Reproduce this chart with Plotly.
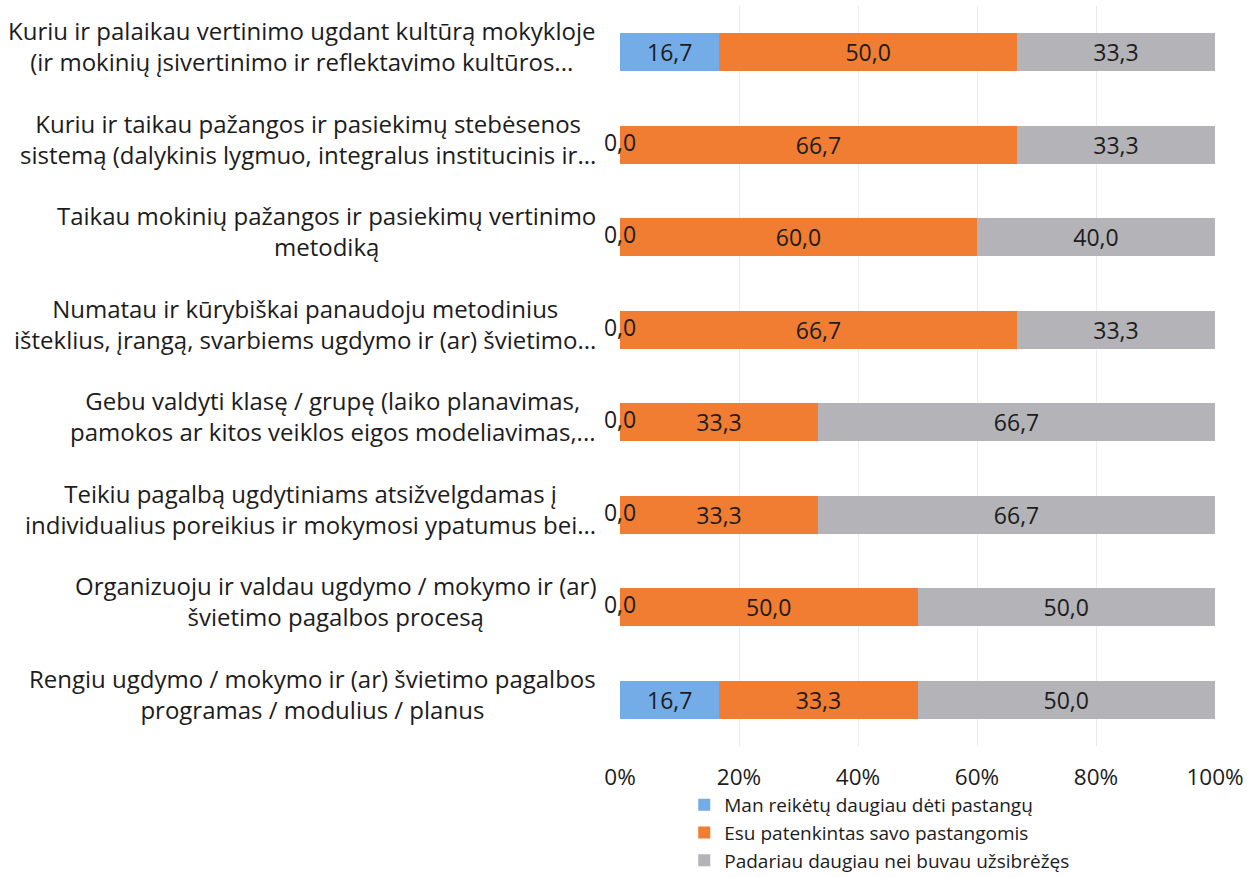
import plotly.graph_objects as go

categories = [
    "Kuriu ir palaikau vertinimo ugdant kultūrą mokykloje<br>(ir mokinių įsivertinimo ir reflektavimo kultūros...",
    "Kuriu ir taikau pažangos ir pasiekimų stebėsenos<br>sistemą (dalykinis lygmuo, integralus institucinis ir...",
    "Taikau mokinių pažangos ir pasiekimų vertinimo<br>metodiką",
    "Numatau ir kūrybiškai panaudoju metodinius<br>išteklius, įrangą, svarbiems ugdymo ir (ar) švietimo...",
    "Gebu valdyti klasę / grupę (laiko planavimas,<br>pamokos ar kitos veiklos eigos modeliavimas,...",
    "Teikiu pagalbą ugdytiniams atsižvelgdamas į<br>individualius poreikius ir mokymosi ypatumus bei...",
    "Organizuoju ir valdau ugdymo / mokymo ir (ar)<br>švietimo pagalbos procesą",
    "Rengiu ugdymo / mokymo ir (ar) švietimo pagalbos<br>programas / modulius / planus",
]
series_names = [
    "Man reikėtų daugiau dėti pastangų",
    "Esu patenkintas savo pastangomis",
    "Padariau daugiau nei buvau užsibrėžęs",
]
blue_vals = [16.7, 0.0, 0.0, 0.0, 0.0, 0.0, 0.0, 16.7]
orange_vals = [50.0, 66.7, 60.0, 66.7, 33.3, 33.3, 50.0, 33.3]
gray_vals = [33.3, 33.3, 40.0, 33.3, 66.7, 66.7, 50.0, 50.0]
x_ticks = [0, 20, 40, 60, 80, 100]
x_tick_labels = ["0%", "20%", "40%", "60%", "80%", "100%"]

colors = ["#74ACE8", "#F07D32", "#B3B3B8"]
FONT = "Open Sans"
TXT = "#1c1c1c"


def fmt(v):
    return f"{v:.1f}".replace(".", ",")


fig = go.Figure()
for name, vals, col in zip(series_names, [blue_vals, orange_vals, gray_vals], colors):
    fig.add_trace(go.Bar(
        y=categories, x=vals, name=name, orientation="h",
        marker=dict(color=col, line=dict(width=0)),
        text=[fmt(v) if v > 0 else "" for v in vals],
        textposition="inside", insidetextanchor="middle",
        textfont=dict(family=FONT, size=23, color=TXT),
        constraintext="none", hoverinfo="skip",
    ))

# zero-value labels at the start of the bar
zero_y = [c for c, v in zip(categories, blue_vals) if v == 0]
fig.add_trace(go.Scatter(
    x=[0] * len(zero_y), y=zero_y, mode="text",
    text=[fmt(0)] * len(zero_y), textposition="middle center",
    textfont=dict(family=FONT, size=23, color=TXT),
    showlegend=False, cliponaxis=False, hoverinfo="skip",
))

for c in categories:
    fig.add_annotation(
        x=-0.037, xref="paper", y=c, yref="y", text=c,
        xanchor="right", yanchor="middle", align="center", yshift=6,
        showarrow=False, font=dict(family=FONT, size=24, color=TXT),
    )

fig.update_layout(
    width=1247, height=877,
    barmode="stack", bargap=0.59,
    plot_bgcolor="white", paper_bgcolor="white",
    margin=dict(l=620, r=32, t=6, b=131, autoexpand=False),
    font=dict(family=FONT, size=19, color=TXT),
    showlegend=True,
    legend=dict(
        x=0.108, y=-0.054, xanchor="left", yanchor="top",
        orientation="v", font=dict(family=FONT, size=19, color=TXT),
        traceorder="normal", tracegroupgap=0, itemwidth=30,
        bgcolor="rgba(0,0,0,0)",
    ),
    xaxis=dict(
        range=[0, 100], tickvals=x_ticks, ticktext=x_tick_labels,
        showgrid=True, gridcolor="#ECECEC", gridwidth=1,
        zeroline=False, showline=False, ticks="", automargin=False,
        ticklabelstandoff=15,
        tickfont=dict(family=FONT, size=22.5, color=TXT),
    ),
    yaxis=dict(
        range=[7.5, -0.5], showticklabels=False, showgrid=False,
        zeroline=False, showline=False, ticks="", automargin=False,
    ),
)

fig.write_html(
    "out.html",
    config={"displayModeBar": False},
    post_script="document.body.style.margin='0';",
)
